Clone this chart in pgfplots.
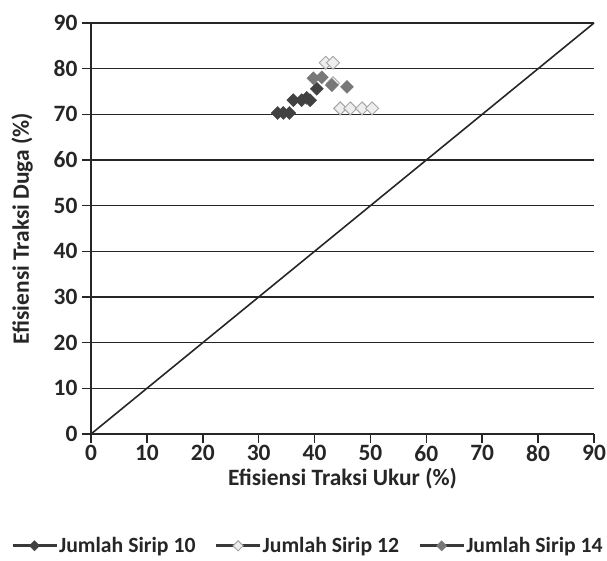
\documentclass[border=0pt]{standalone}
\usepackage{pgfplots}
\pgfplotsset{compat=1.18}
\usepackage{fontspec}
\setmainfont{Carlito}
\definecolor{s10}{RGB}{65,65,65}
\definecolor{s12}{RGB}{238,238,238}
\definecolor{s12e}{RGB}{165,165,165}
\definecolor{s14}{RGB}{120,120,120}
\begin{document}
\begin{tikzpicture}
\begin{axis}[
  scale only axis,
  width=503bp, height=411bp,
  xmin=0, xmax=90, ymin=0, ymax=90,
  xtick={0,10,...,90}, ytick={0,10,...,90},
  axis x line*=bottom, axis y line*=left,
  axis line style={black!85, line width=1.6pt},
  ymajorgrids, grid style={black!85, line width=1.6pt},
  tick style={black!85, line width=1.6pt},
  tick align=outside,
  major tick length=9bp,
  /pgf/number format/assume math mode=true,
  tick label style={font=\fontsize{23.5}{25}\selectfont\bfseries, text=black!85},
  yticklabel style={xshift=-1bp},
  xticklabel style={yshift=1bp},
  xlabel={Efisiensi Traksi Ukur (\%)},
  ylabel={Efisiensi Traksi Duga (\%)},
  label style={font=\fontsize{23.5}{25}\selectfont\bfseries, text=black!85},
  xlabel style={at={(axis description cs:0.5,-0.1095)}, anchor=center},
  ylabel style={at={(axis description cs:-0.137,0.5)}, anchor=center},
  legend style={at={(axis description cs:0.43,-0.272)}, anchor=center, draw=none, legend columns=3,
     font=\fontsize{21.8}{24}\selectfont\bfseries, text=black!85,
     /tikz/every even column/.append style={column sep=18bp},
     nodes={inner xsep=1bp},
     inner sep=0pt},
  legend image code/.code={
    \draw[black!78, line width=3.2bp] (0bp,0bp) -- (44bp,0bp);
    \draw[#1, mark size=3.6bp] plot coordinates {(22bp,0bp)};
  },
  clip=false,
]
\addplot[black!85, line width=1.6pt, forget plot] coordinates {(0,0) (90,90)};
\addplot[only marks, mark=square*, mark size=4.6bp, mark options={rotate=45}, draw=s10, fill=s10] coordinates {
(33.4,70.3) (34.4,70.3) (35.5,70.3) (36.2,73.1) (37.7,73.1) (39.2,73.1) (38.6,73.6) (40.4,75.6)};
\addlegendentry{Jumlah Sirip 10}
\addplot[only marks, mark=square*, mark size=4.6bp, mark options={rotate=45, line width=1pt}, draw=s12e, fill=s12] coordinates {
(42.0,81.3) (43.3,81.3) (43.3,76.8) (44.6,71.3) (46.4,71.3) (48.5,71.3) (50.3,71.3)};
\addlegendentry{Jumlah Sirip 12}
\addplot[only marks, mark=square*, mark size=4.6bp, mark options={rotate=45}, draw=s14, fill=s14] coordinates {
(39.8,77.9) (41.3,78.1) (43.1,76.4) (45.8,76.0)};
\addlegendentry{Jumlah Sirip 14}
\coordinate (bl) at (rel axis cs:0,0);
\coordinate (tr) at (rel axis cs:1,1);
\end{axis}
\pgfresetboundingbox
\path[use as bounding box] ([shift={(-91bp,-126bp)}]bl) rectangle ([shift={(13bp,23bp)}]tr);
\end{tikzpicture}
\end{document}
